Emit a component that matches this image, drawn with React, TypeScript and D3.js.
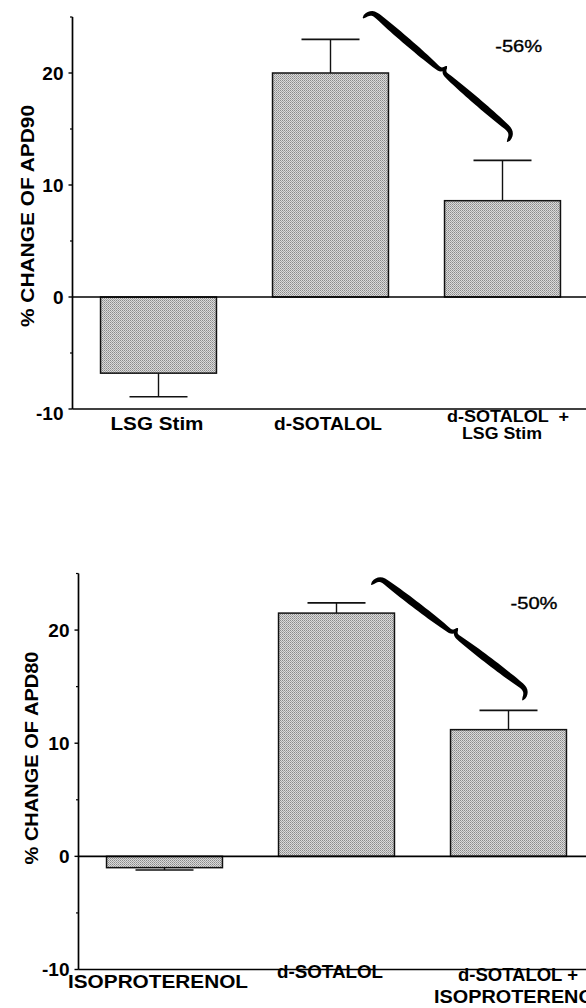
import React from "react";
import * as d3 from "d3";

// values
const topCategories = [["LSG Stim"], ["d-SOTALOL"], ["d-SOTALOL  +", "LSG Stim"]];
const topValues = [-6.8, 20.0, 8.6];
const topErrors = [2.1, 3.0, 3.6];
const topPercent = "-56%";

const bottomCategories = [["ISOPROTERENOL"], ["d-SOTALOL"], ["d-SOTALOL +", "ISOPROTERENOL"]];
const bottomValues = [-1.0, 21.5, 11.2];
const bottomErrors = [0.2, 0.9, 1.7];
const bottomPercent = "-50%";

const yTickLabels = [-10, 0, 10, 20];
const yMinorTicks = [-5, 5, 15, 25];

const FONT = "'Liberation Sans', Arial, Helvetica, sans-serif";

type Pt = [number, number];

// sample a quadratic bezier
const quad = (p0: Pt, p1: Pt, p2: Pt, n: number): Pt[] =>
  d3.range(n + 1).map((i) => {
    const t = i / n;
    const a = (1 - t) * (1 - t), b = 2 * (1 - t) * t, c = t * t;
    return [a * p0[0] + b * p1[0] + c * p2[0], a * p0[1] + b * p1[1] + c * p2[1]] as Pt;
  });

// one half of a curly brace (tip -> cusp) as a filled, tapered outline
const braceHalf = (pts: Pt[]) => {
  const len = [0];
  for (let i = 1; i < pts.length; i++) {
    len.push(len[i - 1] + Math.hypot(pts[i][0] - pts[i - 1][0], pts[i][1] - pts[i - 1][1]));
  }
  const total = len[len.length - 1];
  const left: Pt[] = [], right: Pt[] = [];
  pts.forEach((p, i) => {
    const a = pts[Math.max(0, i - 1)], b = pts[Math.min(pts.length - 1, i + 1)];
    const dx = b[0] - a[0], dy = b[1] - a[1];
    const d = Math.hypot(dx, dy) || 1;
    const nx = -dy / d, ny = dx / d;
    const f = len[i] / total;
    const w = (0.8 + 6.4 * Math.pow(Math.sin(Math.PI * f), 0.4)) / 2;
    left.push([p[0] + nx * w, p[1] + ny * w]);
    right.push([p[0] - nx * w, p[1] - ny * w]);
  });
  return d3.line()([...left, ...right.reverse()]) + "Z";
};

const Brace = ({ a, b }: { a: Pt; b: Pt }) => {
  const L = Math.hypot(b[0] - a[0], b[1] - a[1]);
  const ang = (Math.atan2(b[1] - a[1], b[0] - a[0]) * 180) / Math.PI;
  const h = 11, c = 7, w = 10, w2 = 6;
  const half1 = [
    ...quad([0, 0], [0, -h], [w, -h], 8),
    ...quad([w, -h], [(w + L / 2 - w2) / 2, -h], [L / 2 - w2, -h], 20).slice(1),
    ...quad([L / 2 - w2, -h], [L / 2, -h], [L / 2, -h - c], 8).slice(1),
  ];
  const half2 = [
    ...quad([L, 0], [L, -h], [L - w, -h], 8),
    ...quad([L - w, -h], [(L - w + L / 2 + w2) / 2, -h], [L / 2 + w2, -h], 20).slice(1),
    ...quad([L / 2 + w2, -h], [L / 2, -h], [L / 2, -h - c], 8).slice(1),
  ];
  return (
    <g transform={`translate(${a[0]},${a[1]}) rotate(${ang})`}>
      <path d={braceHalf(half1)} fill="#000" />
      <path d={braceHalf(half2)} fill="#000" />
    </g>
  );
};

type LabelLayout = { cx: number; y: number; w: number; size: number }[][];

type PanelProps = {
  categories: string[][];
  values: number[];
  errors: number[];
  yLabel: string;
  yLabelPos: [number, number, number];
  percent: string;
  axisX: number;
  yTopPx: number;
  yBottomPx: number;
  braceFrom: [number, number, number];
  braceTo: [number, number, number];
  percentAt: [number, number, number];
  labels: LabelLayout;
  minusTenDy: number;
};

const Panel = (p: PanelProps) => {
  const y = d3.scaleLinear().domain([-10, 25]).range([p.yBottomPx, p.yTopPx]);
  const x = d3
    .scaleBand<number>()
    .domain(d3.range(p.categories.length))
    .range([p.axisX, p.axisX + 516])
    .paddingInner(0.326)
    .paddingOuter(0.163);
  const bw = x.bandwidth();
  const at = (q: [number, number, number]): Pt => [(x(q[0]) as number) + bw * q[1], y(q[2])];
  const capHalf = 29;
  const pct = at(p.percentAt);

  return (
    <g fontFamily={FONT}>
      {/* bars */}
      {p.values.map((v, i) => {
        const x0 = x(i) as number;
        const cx = x0 + bw / 2;
        const tip = v >= 0 ? v + p.errors[i] : v - p.errors[i];
        return (
          <g key={i}>
            <line x1={cx} x2={cx} y1={y(v)} y2={y(tip)} stroke="#111" strokeWidth={1.4} />
            <line x1={cx - capHalf} x2={cx + capHalf} y1={y(tip)} y2={y(tip)} stroke="#111" strokeWidth={1.6} />
            <rect
              x={x0}
              width={bw}
              y={Math.min(y(v), y(0))}
              height={Math.abs(y(v) - y(0))}
              fill="url(#stipple)"
              stroke="#111"
              strokeWidth={1.5}
            />
          </g>
        );
      })}
      {/* zero line and bottom line */}
      <line x1={p.axisX} x2={586} y1={y(0)} y2={y(0)} stroke="#000" strokeWidth={1.7} />
      <line x1={p.axisX} x2={586} y1={y(-10)} y2={y(-10)} stroke="#000" strokeWidth={1.7} />
      {/* y axis */}
      <line x1={p.axisX} x2={p.axisX} y1={y(25)} y2={y(-10)} stroke="#000" strokeWidth={1.7} />
      {yTickLabels.map((t) => (
        <g key={t}>
          <line x1={p.axisX - 4} x2={p.axisX} y1={y(t)} y2={y(t)} stroke="#000" strokeWidth={1.4} />
          <text
            x={p.axisX - 9}
            y={y(t) + (t === -10 ? p.minusTenDy : 0)}
            dy="0.36em"
            textAnchor="end"
            fontSize={19}
            fontWeight="bold"
          >
            {t}
          </text>
        </g>
      ))}
      {yMinorTicks.map((t) => (
        <line key={t} x1={p.axisX - 2.5} x2={p.axisX} y1={y(t)} y2={y(t)} stroke="#000" strokeWidth={1.2} />
      ))}
      <text
        transform={`translate(${p.yLabelPos[0]},${p.yLabelPos[1]}) rotate(-90)`}
        textAnchor="middle"
        dy="0.36em"
        fontSize={19}
        fontWeight="bold"
        textLength={p.yLabelPos[2]}
        lengthAdjust="spacingAndGlyphs"
      >
        {p.yLabel}
      </text>
      {/* category labels */}
      {p.categories.map((lines, i) =>
        lines.map((l, j) => {
          const lay = p.labels[i][j];
          return (
            <text
              key={`${i}-${j}`}
              x={lay.cx}
              y={lay.y}
              textAnchor="middle"
              fontSize={lay.size}
              fontWeight="bold"
              textLength={lay.w}
              lengthAdjust="spacingAndGlyphs"
              style={{ whiteSpace: "pre" }}
            >
              {l}
            </text>
          );
        })
      )}
      <Brace a={at(p.braceFrom)} b={at(p.braceTo)} />
      <text
        x={pct[0]}
        y={pct[1]}
        textAnchor="middle"
        fontSize={17}
        stroke="#000"
        strokeWidth={0.35}
        textLength={47}
        lengthAdjust="spacingAndGlyphs"
      >
        {p.percent}
      </text>
    </g>
  );
};

export default function App() {
  return (
    <div style={{ position: "absolute", left: 0, top: 0, width: 586, height: 1008, background: "#fff" }}>
      <svg width={586} height={1008} style={{ display: "block" }}>
        <defs>
          <pattern id="stipple" width={2} height={2} patternUnits="userSpaceOnUse">
            <rect width={2} height={2} fill="#dadada" />
            <rect width={1} height={1} fill="#8a8a8a" />
            <rect x={1} y={1} width={1} height={1} fill="#a4a4a4" />
          </pattern>
        </defs>
        <Panel
          categories={topCategories}
          values={topValues}
          errors={topErrors}
          yLabel="% CHANGE OF APD90"
          yLabelPos={[27, 216, 222]}
          percent={topPercent}
          axisX={72.5}
          yTopPx={17}
          yBottomPx={409}
          braceFrom={[1, 0.78, 24.9]}
          braceTo={[2, 0.54, 13.85]}
          percentAt={[2, 0.64, 21.9]}
          labels={[
            [{ cx: 157, y: 430, w: 93, size: 18 }],
            [{ cx: 328, y: 430, w: 108, size: 18 }],
            [
              { cx: 508, y: 422, w: 122, size: 16 },
              { cx: 502, y: 439, w: 80, size: 16 },
            ],
          ]}
          minusTenDy={4}
        />
        <Panel
          categories={bottomCategories}
          values={bottomValues}
          errors={bottomErrors}
          yLabel="% CHANGE OF APD80"
          yLabelPos={[31, 758, 213]}
          percent={bottomPercent}
          axisX={78.5}
          yTopPx={573.5}
          yBottomPx={969.5}
          braceFrom={[1, 0.8, 24.0]}
          braceTo={[2, 0.62, 13.8]}
          percentAt={[2, 0.72, 21.9]}
          labels={[
            [{ cx: 158, y: 988, w: 180, size: 18 }],
            [{ cx: 330, y: 978, w: 106, size: 18 }],
            [
              { cx: 518, y: 981, w: 120, size: 18 },
              { cx: 520, y: 1003, w: 172, size: 18 },
            ],
          ]}
          minusTenDy={0}
        />
      </svg>
    </div>
  );
}
